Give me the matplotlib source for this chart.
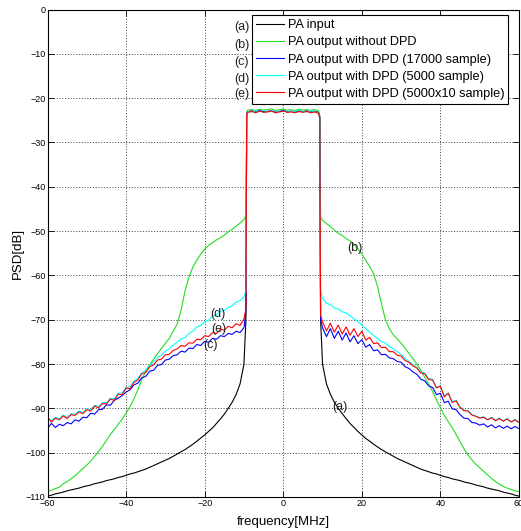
import numpy as np
import matplotlib
matplotlib.use("Agg")
import matplotlib.pyplot as plt

plt.rcParams['font.family'] = ['Liberation Sans', 'DejaVu Sans']

# ---------------- data ----------------
freq_left = list(np.arange(-60, -9, 1.0)) + [-9.5]          # -60 .. -10, -9.5
freq_band = [-9.3] + list(np.arange(-9, 9.5, 1.0)) + [9.3]    # in-band
freq_right = [9.5] + list(np.arange(10, 61, 1.0))             # 9.5, 10 .. 60

# (a) PA input
a_left = [-109.8, -109.6, -109.3, -109.1, -108.9, -108.6, -108.4, -108.2, -108.0, -107.7,
          -107.5, -107.3, -107.0, -106.8, -106.6, -106.3, -106.1, -105.9, -105.6, -105.4,
          -105.1, -104.8, -104.6, -104.3, -104.0, -103.7, -103.3, -102.9, -102.5, -102.1,
          -101.7, -101.3, -100.8, -100.3, -99.8, -99.3, -98.7, -98.1, -97.4, -96.7,
          -96.0, -95.2, -94.4, -93.4, -92.4, -91.3, -90.0, -88.6, -86.9, -84.5,
          -80.0, -70.0]
a_band = [-23.2, -23.0, -23.0, -23.0, -23.0, -23.0, -23.0, -23.0, -23.0, -23.0, -23.0,
          -23.0, -23.0, -23.0, -23.0, -23.0, -23.0, -23.0, -23.0, -23.2, -24.0]
a_right = [-70.0, -80.0, -84.5, -86.8, -88.6, -90.0, -91.2, -92.3, -93.4, -94.3, -95.2,
           -96.0, -96.8, -97.4, -98.1, -98.7, -99.3, -99.8, -100.3, -100.8, -101.3,
           -101.7, -102.1, -102.5, -102.9, -103.3, -103.7, -104.0, -104.3, -104.6, -104.8,
           -105.1, -105.4, -105.6, -105.9, -106.1, -106.3, -106.6, -106.8, -107.0, -107.3,
           -107.5, -107.7, -108.0, -108.2, -108.4, -108.6, -108.9, -109.1, -109.3, -109.6,
           -109.8]

# (b) PA output without DPD
b_left = [-108.8, -108.5, -108.1, -107.8, -107.0, -106.5, -105.9, -105.2, -104.4, -103.6,
          -102.8, -101.9, -100.8, -99.7, -98.6, -97.2, -95.9, -94.8, -93.6, -92.4,
          -91.1, -89.6, -87.8, -85.8, -83.5, -81.6, -80.2, -78.9, -77.6, -76.5,
          -75.3, -74.2, -72.6, -71.0, -67.8, -63.5, -60.4, -58.1, -56.6, -55.2,
          -54.1, -53.2, -52.6, -52.0, -51.5, -50.9, -50.2, -49.6, -48.9, -48.2,
          -47.4, -46.5]
b_band = [-23.0, -22.7, -22.6, -22.8, -22.5, -22.7, -22.6, -22.4, -22.8, -22.6, -22.5,
          -22.7, -22.6, -22.8, -22.5, -22.7, -22.6, -22.8, -22.6, -22.8, -24.5]
b_right = [-46.8, -47.6, -48.3, -49.0, -49.8, -50.5, -51.0, -51.7, -52.2, -53.0, -54.0,
           -55.2, -56.6, -58.0, -59.6, -62.5, -66.4, -70.0, -72.0, -73.4, -74.3,
           -75.3, -76.4, -77.6, -78.8, -80.0, -81.4, -83.0, -84.5, -86.2, -88.1,
           -89.9, -91.6, -93.0, -94.4, -95.9, -97.5, -99.1, -100.5, -101.6, -102.6,
           -103.4, -104.2, -105.0, -105.8, -106.5, -107.1, -107.6, -108.0, -108.3, -108.6,
           -108.8]

# (c) PA output with DPD (17000 sample)
c_left = [-94.5, -93.4, -94.3, -93.6, -93.9, -93.2, -93.5, -92.6, -92.9, -92.0,
          -92.1, -91.1, -91.3, -90.3, -90.2, -89.2, -89.3, -88.2, -87.7, -87.1,
          -86.3, -85.8, -84.7, -84.3, -83.1, -82.8, -81.6, -81.4, -80.3, -80.1,
          -79.1, -78.9, -78.1, -77.9, -77.1, -77.3, -76.4, -76.5, -75.6, -75.8,
          -74.9, -75.1, -74.2, -74.4, -73.6, -73.8, -73.1, -73.3, -72.6, -72.9,
          -71.8, -68.0]
c_band = [-23.3, -23.1, -22.9, -23.2, -22.8, -23.1, -23.0, -22.9, -23.2, -23.0, -22.8,
          -23.1, -23.0, -23.2, -22.9, -23.1, -22.9, -23.2, -23.0, -23.3, -24.5]
c_right = [-70.0, -71.8, -73.8, -72.0, -74.2, -72.6, -74.6, -73.0, -75.0, -73.6, -75.4,
           -74.5, -76.2, -75.6, -77.0, -76.8, -77.9, -77.8, -78.6, -78.8, -79.4,
           -79.6, -80.6, -81.0, -81.8, -82.3, -83.4, -83.8, -84.9, -85.3, -86.9,
           -86.6, -88.7, -88.4, -90.1, -90.3, -91.4, -92.2, -92.3, -93.2, -93.3,
           -93.8, -93.5, -94.2, -93.7, -94.4, -93.9, -94.5, -94.0, -94.6, -94.1,
           -94.6]

# (d) PA output with DPD (5000 sample)
d_left = [-92.2, -92.8, -92.0, -92.4, -91.5, -92.0, -91.2, -91.3, -90.6, -90.9,
          -90.1, -90.3, -89.3, -89.6, -88.7, -88.7, -87.7, -87.8, -86.6, -86.5,
          -85.2, -85.2, -83.9, -83.2, -82.0, -81.4, -80.2, -79.6, -78.5, -78.0,
          -77.1, -76.6, -75.7, -75.1, -74.3, -74.0, -73.1, -72.6, -71.6, -71.3,
          -70.5, -70.1, -69.2, -68.9, -68.1, -67.9, -67.2, -66.9, -66.0, -65.7,
          -64.8, -63.5]
d_band = [-23.3, -23.0, -23.1, -22.9, -23.0, -22.8, -23.1, -23.0, -22.9, -23.1, -23.0,
          -22.9, -23.1, -23.0, -22.8, -23.0, -23.1, -22.9, -23.1, -23.3, -24.5]
d_right = [-63.5, -65.2, -66.3, -66.6, -67.3, -67.6, -68.2, -68.5, -69.1, -69.8, -70.4,
           -71.2, -72.0, -72.8, -73.6, -74.2, -74.9, -75.3, -76.0, -76.6, -77.2,
           -77.8, -78.7, -79.4, -80.1, -80.8, -81.8, -82.0, -83.3, -83.4, -85.2,
           -84.9, -87.2, -86.5, -88.5, -88.2, -89.7, -90.4, -90.5, -91.4, -91.7,
           -92.1, -91.9, -92.5, -92.0, -92.7, -92.2, -92.8, -92.3, -93.0, -92.5,
           -93.1]

# (e) PA output with DPD (5000x10 sample)
e_left = [-92.0, -93.1, -92.2, -92.6, -91.7, -92.3, -91.4, -91.6, -90.8, -91.2,
          -90.3, -90.6, -89.5, -89.9, -88.9, -89.0, -87.9, -88.2, -86.8, -86.9,
          -85.4, -85.6, -84.1, -83.6, -82.2, -81.9, -80.6, -80.2, -79.1, -78.9,
          -77.9, -77.8, -76.9, -76.6, -75.8, -76.0, -75.2, -75.3, -74.4, -74.5,
          -73.6, -73.8, -72.9, -73.1, -72.2, -72.3, -71.5, -71.8, -70.9, -71.3,
          -69.8, -67.5]
e_band = [-23.4, -23.2, -23.0, -23.3, -22.9, -23.2, -23.1, -22.9, -23.3, -23.1, -22.9,
          -23.2, -23.1, -23.3, -23.0, -23.2, -23.0, -23.3, -23.1, -23.4, -24.6]
e_right = [-69.0, -70.5, -72.5, -70.8, -72.8, -71.2, -73.2, -71.6, -73.5, -72.0, -73.8,
           -72.6, -74.6, -74.0, -75.4, -75.2, -76.3, -76.2, -77.2, -77.2, -78.0,
           -78.2, -79.2, -79.6, -80.4, -80.9, -82.0, -82.2, -83.5, -83.6, -85.4,
           -85.0, -87.4, -86.6, -88.7, -88.3, -89.8, -90.5, -90.6, -91.5, -91.8,
           -92.2, -92.0, -92.6, -92.1, -92.8, -92.3, -92.9, -92.4, -93.1, -92.6,
           -93.2]

labels = ['PA input', 'PA output without DPD', 'PA output with DPD (17000 sample)',
          'PA output with DPD (5000 sample)', 'PA output with DPD (5000x10 sample)']
tags = ['(a)', '(b)', '(c)', '(d)', '(e)']
colors = ['#000000', '#22dd22', '#0000ff', '#00ffff', '#ff0000']

x_ticks = [-60, -40, -20, 0, 20, 40, 60]
y_ticks = [-110, -100, -90, -80, -70, -60, -50, -40, -30, -20, -10, 0]

# ---------------- plot ----------------
fig = plt.figure(figsize=(5.21, 5.31), dpi=100)
ax = fig.add_axes([47.5 / 521, 1 - 497 / 531, (519 - 47.5) / 521, (497 - 9.5) / 531])

freq = np.array(freq_left + freq_band + freq_right)
series = [a_left + a_band + a_right,
          b_left + b_band + b_right,
          c_left + c_band + c_right,
          d_left + d_band + d_right,
          e_left + e_band + e_right]
for ys, col, lab in zip(series, colors, labels):
    ax.plot(freq, ys, color=col, lw=0.8, label=lab)

ax.set_xlim(-60, 60)
ax.set_ylim(-110, 0)
ax.set_xticks(x_ticks)
ax.set_yticks(y_ticks)
ax.tick_params(direction='in', top=True, right=True, length=4, width=0.6,
               labelsize=6.5, pad=1.5)
ax.grid(True, color='black', lw=0.5, linestyle=(0, (1.5, 2.5)))
for s in ax.spines.values():
    s.set_linewidth(0.8)

ax.set_xlabel('frequency[MHz]', fontsize=9.5, labelpad=6)
ax.set_ylabel('PSD[dB]', fontsize=9.5, labelpad=1)

leg = ax.legend(loc='upper right', bbox_to_anchor=(0.9767, 0.9877), borderaxespad=0,
                fontsize=9.2, fancybox=False, edgecolor='black', framealpha=1,
                handlelength=2.2, handletextpad=0.3, labelspacing=0.4,
                borderpad=0.3)
leg.get_frame().set_linewidth(0.8)

tag_y = [-3.9, -8.0, -11.8, -15.6, -19.0]
for t, yy in zip(tags, tag_y):
    ax.text(-10.6, yy, t, fontsize=9, color='#222222', ha='center', va='center')

ax.text(14.3, -89.7, '(a)', fontsize=9, color='#222222', ha='center', va='center')
ax.text(18.3, -53.8, '(b)', fontsize=9, color='#222222', ha='center', va='center')
ax.text(-18.4, -75.7, '(c)', fontsize=9, color='#222222', ha='center', va='center')
ax.text(-16.6, -68.8, '(d)', fontsize=9, color='#222222', ha='center', va='center')
ax.text(-16.3, -72.0, '(e)', fontsize=9, color='#222222', ha='center', va='center')

fig.savefig('out.png', dpi=100)
